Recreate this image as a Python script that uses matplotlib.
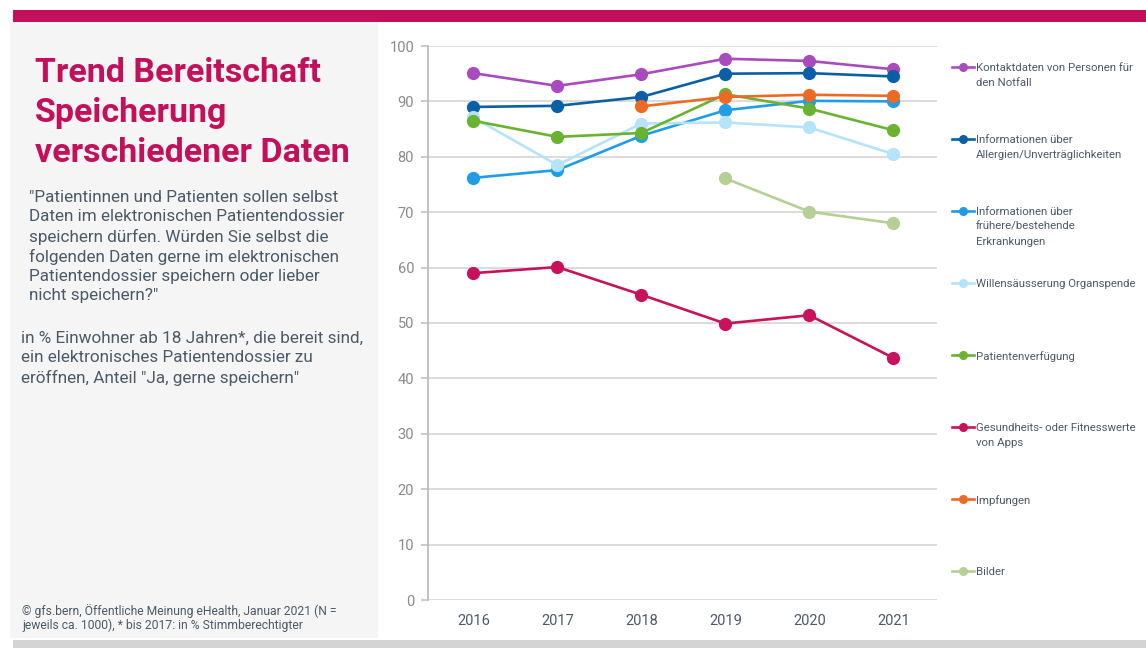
import numpy as np
import matplotlib
matplotlib.use('Agg')
from matplotlib import pyplot as plt
from matplotlib.patches import Rectangle
from matplotlib.lines import Line2D

plt.rcParams['font.family'] = ['Roboto', 'DejaVu Sans']

# Daten
jahre = ['2016', '2017', '2018', '2019', '2020', '2021']

kontaktdaten = [95.1, 92.8, 94.9, 97.7, 97.3, 95.8]
allergien = [89.0, 89.2, 90.8, 95.0, 95.1, 94.5]
erkrankungen = [76.2, 77.6, 83.8, 88.4, 90.1, 90.0]
organspende = [87.1, 78.5, 86.0, 86.2, 85.3, 80.5]
patientenverfuegung = [86.5, 83.6, 84.3, 91.3, 88.7, 84.8]
gesundheitswerte = [59.0, 60.1, 55.1, 49.9, 51.4, 43.7]
impfungen = [np.nan, np.nan, 89.1, 90.8, 91.2, 91.0]
bilder = [np.nan, np.nan, np.nan, 76.1, 70.1, 68.0]

reihen = [
    ('Kontaktdaten von Personen für\nden Notfall', kontaktdaten, '#a94bbd'),
    ('Informationen über\nAllergien/Unverträglichkeiten', allergien, '#0b5fa5'),
    ('Informationen über\nfrühere/bestehende\nErkrankungen', erkrankungen, '#1f9de6'),
    ('Willensäusserung Organspende', organspende, '#b5e3f9'),
    ('Patientenverfügung', patientenverfuegung, '#6ab330'),
    ('Gesundheits- oder Fitnesswerte\nvon Apps', gesundheitswerte, '#c8125c'),
    ('Impfungen', impfungen, '#ec6a24'),
    ('Bilder', bilder, '#b5cf94'),
]

W, H = 1146, 648
fig = plt.figure(figsize=(W / 100, H / 100), dpi=100)
fig.patch.set_facecolor('white')

def px(x, y):
    return x / W, 1 - y / H

# Hintergrund links, Balken oben und unten
fig.patches.append(Rectangle(px(10, 638), 368 / W, 616 / H, transform=fig.transFigure,
                             facecolor='#f5f5f5', edgecolor='none', zorder=0))
fig.patches.append(Rectangle(px(13, 22), (W - 13) / W, 12 / H, transform=fig.transFigure,
                             facecolor='#c4105a', edgecolor='none', zorder=0))
fig.patches.append(Rectangle(px(13, 648), (W - 13) / W, 8 / H, transform=fig.transFigure,
                             facecolor='#d4d4d4', edgecolor='none', zorder=0))

textfarbe = '#4b5a69'

# Titel und Texte
fig.text(*px(35, 57), 'Trend Bereitschaft\nSpeicherung\nverschiedener Daten',
         fontsize=24.5, fontweight='bold', color='#c4105a', va='top', ha='left',
         linespacing=1.31)
fig.text(*px(29, 190), '"Patientinnen und Patienten sollen selbst\nDaten im elektronischen Patientendossier\n'
         'speichern dürfen. Würden Sie selbst die\nfolgenden Daten gerne im elektronischen\n'
         'Patientendossier speichern oder lieber\nnicht speichern?"',
         fontsize=12.3, color=textfarbe, va='top', ha='left', linespacing=1.34)
fig.text(*px(21, 331), 'in % Einwohner ab 18 Jahren*, die bereit sind,\nein elektronisches Patientendossier zu\n'
         'eröffnen, Anteil "Ja, gerne speichern"',
         fontsize=12.3, color=textfarbe, va='top', ha='left', linespacing=1.34)
fig.text(*px(22, 604), '© gfs.bern, Öffentliche Meinung eHealth, Januar 2021 (N =\njeweils ca. 1000), * bis 2017: in % Stimmberechtigter',
         fontsize=8.7, color=textfarbe, va='top', ha='left', linespacing=1.1)

# Diagramm
ax = fig.add_axes([428 / W, 48 / H, (937 - 428) / W, (600 - 46) / H])
ax.set_facecolor('none')
x = np.arange(len(jahre))
for name, werte, farbe in reihen:
    ax.plot(x, werte, color=farbe, linewidth=1.9, marker='o', markersize=8.5, zorder=3)

ax.set_xlim(-0.54, 5.52)
ax.set_ylim(0, 100)
ax.set_yticks(np.arange(0, 101, 10))
ax.set_xticks(x)
ax.set_xticklabels(jahre)
ax.yaxis.grid(True, color='#d2d2d2', linewidth=1.1)
ax.set_axisbelow(True)
for s in ['top', 'right', 'bottom']:
    ax.spines[s].set_visible(False)
ax.spines['left'].set_color('#bdbdbd')
ax.spines['left'].set_linewidth(1.3)
ax.tick_params(axis='y', colors='#bdbdbd', labelcolor='#8a8a8a', labelsize=10.5, length=5, width=1.1, pad=5)
ax.tick_params(axis='x', length=0, labelcolor=textfarbe, labelsize=10.5, pad=10)

# Legende rechts
leg_y = [67, 139, 211, 283, 355, 427, 499, 571]
for (name, werte, farbe), yy in zip(reihen, leg_y):
    x0, y0 = px(952, yy)
    x1, _ = px(974, yy)
    xm, _ = px(963, yy)
    fig.add_artist(Line2D([x0, x1], [y0, y0], transform=fig.transFigure, color=farbe, linewidth=1.9))
    fig.add_artist(Line2D([xm], [y0], transform=fig.transFigure, color=farbe, marker='o',
                          markersize=5.5, linestyle='none'))
    fig.text(*px(976, yy - 4), name, fontsize=8.2, color=textfarbe, va='top', ha='left', linespacing=1.6)

fig.savefig('out.png', dpi=100)
